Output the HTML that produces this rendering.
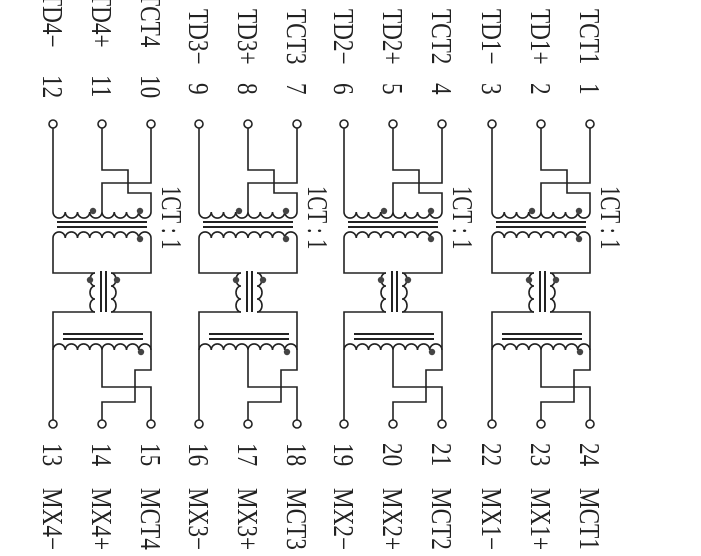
<!DOCTYPE html>
<html><head><meta charset="utf-8"><style>
html,body{margin:0;padding:0;background:#fff;}
svg{display:block;}
text{font-family:"Liberation Serif",serif;font-size:29px;fill:#222;}
</style></head><body>
<svg width="701" height="556" viewBox="0 0 701 556" xmlns="http://www.w3.org/2000/svg">
<defs>
<g id="ch" fill="none" stroke="#222" stroke-width="1.6">
  <path d="M0 128 V212"/>
  <path d="M49 128 V170 H75 V193 H98 V212"/>
  <path d="M98 128 V183 H49 V212"/>
  <path d="M0 212 a6.1 6 0 0 0 12.25 0 a6.1 6 0 0 0 12.25 0 a6.1 6 0 0 0 12.25 0 a6.1 6 0 0 0 12.25 0 a6.1 6 0 0 0 12.25 0 a6.1 6 0 0 0 12.25 0 a6.1 6 0 0 0 12.25 0 a6.1 6 0 0 0 12.25 0"/>
  <path d="M4 222 H94 M4 227 H94" stroke-width="2"/>
  <path d="M0 238 a6.1 6 0 0 1 12.25 0 a6.1 6 0 0 1 12.25 0 a6.1 6 0 0 1 12.25 0 a6.1 6 0 0 1 12.25 0 a6.1 6 0 0 1 12.25 0 a6.1 6 0 0 1 12.25 0 a6.1 6 0 0 1 12.25 0 a6.1 6 0 0 1 12.25 0"/>
  <path d="M0 238 V273 H42"/>
  <path d="M98 238 V273 H58"/>
  <path d="M42 273 a5 6.5 0 0 0 0 13 a5 6.5 0 0 0 0 13 a5 6.5 0 0 0 0 13"/>
  <path d="M58 273 a5 6.5 0 0 1 0 13 a5 6.5 0 0 1 0 13 a5 6.5 0 0 1 0 13"/>
  <path d="M48 271 V312 M53 271 V312" stroke-width="2"/>
  <path d="M42 312 H0 V350"/>
  <path d="M58 312 H98 V350"/>
  <path d="M10 334 H90 M10 339 H90" stroke-width="2"/>
  <path d="M0 350 a6.1 6 0 0 1 12.25 0 a6.1 6 0 0 1 12.25 0 a6.1 6 0 0 1 12.25 0 a6.1 6 0 0 1 12.25 0 a6.1 6 0 0 1 12.25 0 a6.1 6 0 0 1 12.25 0 a6.1 6 0 0 1 12.25 0 a6.1 6 0 0 1 12.25 0"/>
  <path d="M0 350 V420"/>
  <path d="M49 350 V387 H98 V420"/>
  <path d="M98 350 V370 H82 V402 H49 V420"/>
  <circle cx="0" cy="124" r="4" fill="#fff"/>
  <circle cx="49" cy="124" r="4" fill="#fff"/>
  <circle cx="98" cy="124" r="4" fill="#fff"/>
  <circle cx="0" cy="424" r="4" fill="#fff"/>
  <circle cx="49" cy="424" r="4" fill="#fff"/>
  <circle cx="98" cy="424" r="4" fill="#fff"/>
  <g fill="#444" stroke="none">
    <circle cx="40" cy="211" r="3.2"/>
    <circle cx="87" cy="211" r="3.2"/>
    <circle cx="87" cy="239" r="3.2"/>
    <circle cx="37" cy="280" r="3.2"/>
    <circle cx="64" cy="280" r="3.2"/>
    <circle cx="88" cy="352" r="3.2"/>
  </g>
</g>
</defs>
<use href="#ch" x="492"/>
<use href="#ch" x="344"/>
<use href="#ch" x="199"/>
<use href="#ch" x="53"/>

<g style="font-size:19px">
<text transform="translate(601,186) rotate(90) scale(0.72,1)">1CT : 1</text>
<text transform="translate(453,186) rotate(90) scale(0.72,1)">1CT : 1</text>
<text transform="translate(308,186) rotate(90) scale(0.72,1)">1CT : 1</text>
<text transform="translate(162,186) rotate(90) scale(0.72,1)">1CT : 1</text>
</g>

<g>
<text transform="translate(580,9) rotate(90) scale(0.8,1)">TCT1</text>
<text transform="translate(580,83) rotate(90) scale(0.8,1)">1</text>
<text transform="translate(531,9) rotate(90) scale(0.8,1)">TD1+</text>
<text transform="translate(531,83) rotate(90) scale(0.8,1)">2</text>
<text transform="translate(482,9) rotate(90) scale(0.8,1)">TD1−</text>
<text transform="translate(482,83) rotate(90) scale(0.8,1)">3</text>

<text transform="translate(432,9) rotate(90) scale(0.8,1)">TCT2</text>
<text transform="translate(432,83) rotate(90) scale(0.8,1)">4</text>
<text transform="translate(383,9) rotate(90) scale(0.8,1)">TD2+</text>
<text transform="translate(383,83) rotate(90) scale(0.8,1)">5</text>
<text transform="translate(334,9) rotate(90) scale(0.8,1)">TD2−</text>
<text transform="translate(334,83) rotate(90) scale(0.8,1)">6</text>

<text transform="translate(287,9) rotate(90) scale(0.8,1)">TCT3</text>
<text transform="translate(287,83) rotate(90) scale(0.8,1)">7</text>
<text transform="translate(238,9) rotate(90) scale(0.8,1)">TD3+</text>
<text transform="translate(238,83) rotate(90) scale(0.8,1)">8</text>
<text transform="translate(189,9) rotate(90) scale(0.8,1)">TD3−</text>
<text transform="translate(189,83) rotate(90) scale(0.8,1)">9</text>

<text transform="translate(141,-8) rotate(90) scale(0.8,1)">TCT4</text>
<text transform="translate(141,75) rotate(90) scale(0.8,1)">10</text>
<text transform="translate(92,-8) rotate(90) scale(0.8,1)">TD4+</text>
<text transform="translate(92,75) rotate(90) scale(0.8,1)">11</text>
<text transform="translate(43,-8) rotate(90) scale(0.8,1)">TD4−</text>
<text transform="translate(43,75) rotate(90) scale(0.8,1)">12</text>
</g>

<g>
<text transform="translate(580,443) rotate(90) scale(0.8,1)">24</text>
<text transform="translate(580,488) rotate(90) scale(0.8,1)">MCT1</text>
<text transform="translate(531,443) rotate(90) scale(0.8,1)">23</text>
<text transform="translate(531,488) rotate(90) scale(0.8,1)">MX1+</text>
<text transform="translate(482,443) rotate(90) scale(0.8,1)">22</text>
<text transform="translate(482,488) rotate(90) scale(0.8,1)">MX1−</text>

<text transform="translate(432,443) rotate(90) scale(0.8,1)">21</text>
<text transform="translate(432,488) rotate(90) scale(0.8,1)">MCT2</text>
<text transform="translate(383,443) rotate(90) scale(0.8,1)">20</text>
<text transform="translate(383,488) rotate(90) scale(0.8,1)">MX2+</text>
<text transform="translate(334,443) rotate(90) scale(0.8,1)">19</text>
<text transform="translate(334,488) rotate(90) scale(0.8,1)">MX2−</text>

<text transform="translate(287,443) rotate(90) scale(0.8,1)">18</text>
<text transform="translate(287,488) rotate(90) scale(0.8,1)">MCT3</text>
<text transform="translate(238,443) rotate(90) scale(0.8,1)">17</text>
<text transform="translate(238,488) rotate(90) scale(0.8,1)">MX3+</text>
<text transform="translate(189,443) rotate(90) scale(0.8,1)">16</text>
<text transform="translate(189,488) rotate(90) scale(0.8,1)">MX3−</text>

<text transform="translate(141,443) rotate(90) scale(0.8,1)">15</text>
<text transform="translate(141,488) rotate(90) scale(0.8,1)">MCT4</text>
<text transform="translate(92,443) rotate(90) scale(0.8,1)">14</text>
<text transform="translate(92,488) rotate(90) scale(0.8,1)">MX4+</text>
<text transform="translate(43,443) rotate(90) scale(0.8,1)">13</text>
<text transform="translate(43,488) rotate(90) scale(0.8,1)">MX4−</text>
</g>
</svg>
</body></html>
